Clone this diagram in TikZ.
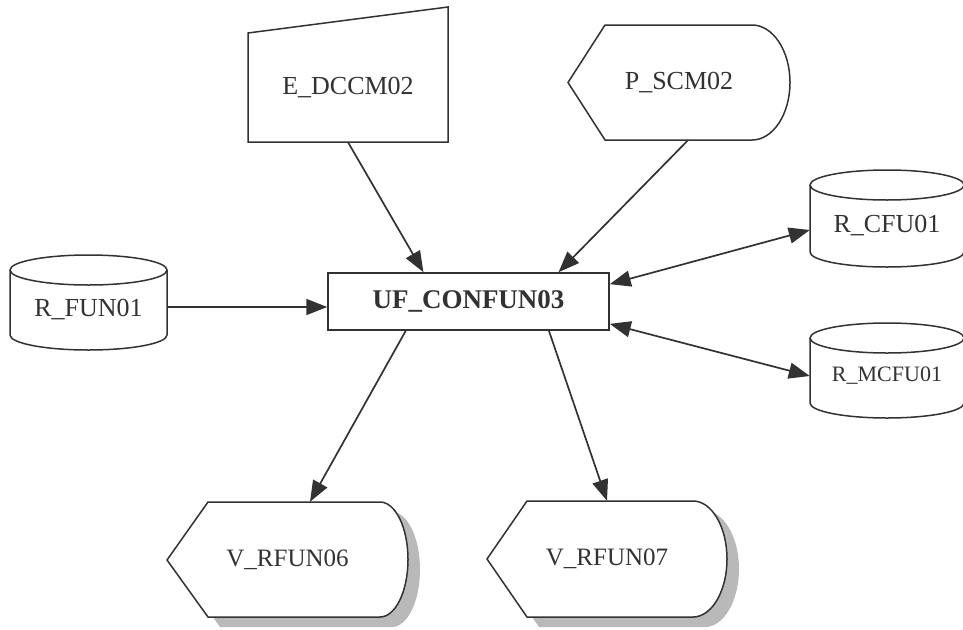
\documentclass[tikz,border=0pt]{standalone}
\usepackage{fontspec}
\setmainfont{Liberation Serif}
\usetikzlibrary{arrows.meta}
\definecolor{inkgray}{RGB}{50,50,50}
\definecolor{shadowgray}{RGB}{185,185,185}
\begin{document}
\begin{tikzpicture}[x=1pt,y=-1pt,
		outline/.style={draw=inkgray, line width=1.5pt, fill=white},
		lbl/.style={inner sep=0pt, text=inkgray, font=\fontsize{26}{31}\selectfont},
		conn/.style={draw=inkgray, line width=1.7pt, -{Triangle[length=21pt,width=16pt]}},
		conntwo/.style={conn, {Triangle[length=21pt,width=16pt]}-{Triangle[length=21pt,width=16pt]}}]
		\useasboundingbox (0,0) rectangle (963,629);
		
		% sources on top
		\draw[outline] (248,33) -- (448,7) -- (448,142) -- (248,142) -- cycle;
		\node[lbl, minimum width=200pt, minimum height=109pt] (dccm) at (348,87.5) {E\_DCCM02};
		\draw[outline] (568,82.5) -- (605,25) -- (752,25) arc[start angle=90, end angle=-90, x radius=38pt, y radius=57.5pt] -- (605,140) -- cycle;
		\node[lbl, minimum width=222pt, minimum height=115pt] (scm) at (679,82.5) {P\_SCM02};
		
		% cylinders
		\draw[outline] (10,270) -- (10,335) arc[start angle=180, end angle=360, x radius=78.5pt, y radius=15pt] -- (167,270);
		\draw[outline] (88.5,270) ellipse[x radius=78.5pt, y radius=15pt];
		\node[lbl, minimum width=157pt, minimum height=80pt] (fun) at (88.5,310) {R\_FUN01};
		\draw[outline] (810,185) -- (810,252) arc[start angle=180, end angle=360, x radius=77pt, y radius=15pt] -- (964,185);
		\draw[outline] (887,185) ellipse[x radius=77pt, y radius=15pt];
		\node[lbl, minimum width=154pt, minimum height=82pt] (cfu) at (887,226) {R\_CFU01};
		\draw[outline] (810,338) -- (810,403) arc[start angle=180, end angle=360, x radius=77pt, y radius=15pt] -- (964,338);
		\draw[outline] (887,338) ellipse[x radius=77pt, y radius=15pt];
		\node[lbl, minimum width=154pt, minimum height=80pt, font=\fontsize{22}{26}\selectfont] (mcfu) at (887,376) {R\_MCFU01};
		
		% outputs with shadow
		\fill[shadowgray] (179,570) -- (220,512) -- (392,512) arc[start angle=90, end angle=-90, x radius=28pt, y radius=57.5pt] -- (220,627) -- cycle;
		\draw[outline] (167,560) -- (208,502) -- (380,502) arc[start angle=90, end angle=-90, x radius=28pt, y radius=57.5pt] -- (208,617) -- cycle;
		\node[lbl, minimum width=241pt, minimum height=115pt, font=\fontsize{25}{30}\selectfont] (vsix) at (287.5,559.5) {V\_RFUN06};
		\fill[shadowgray] (499,569) -- (539,511) -- (705,511) arc[start angle=90, end angle=-90, x radius=34pt, y radius=58pt] -- (539,627) -- cycle;
		\draw[outline] (487,559) -- (527,501) -- (693,501) arc[start angle=90, end angle=-90, x radius=34pt, y radius=58pt] -- (527,617) -- cycle;
		\node[lbl, minimum width=240pt, minimum height=116pt, font=\fontsize{25}{30}\selectfont] (vseven) at (607,559) {V\_RFUN07};
		
		% the function itself
		\node[lbl, outline, minimum width=281pt, minimum height=57pt, font=\bfseries\fontsize{27}{32}\selectfont] (conf) at (468.5,301.5) {UF\_CONFUN03};
		
		\draw[conn] (dccm.south) -- (conf.147);
		\draw[conn] ([xshift=9pt]scm.south) -- (conf.18);
		\draw[conn] ([yshift=3pt]fun.east) -- ([yshift=3pt]fun.east -| conf.west);
		\draw[conntwo] (conf.7) -- ([yshift=-4pt]cfu.west);
		\draw[conntwo] (conf.-9) -- (mcfu.west);
		\draw[conn] (conf.205) -- ([xshift=22.5pt]vsix.north);
		\draw[conn] (conf.340) -- (vseven.north);
	\end{tikzpicture}
\end{document}
